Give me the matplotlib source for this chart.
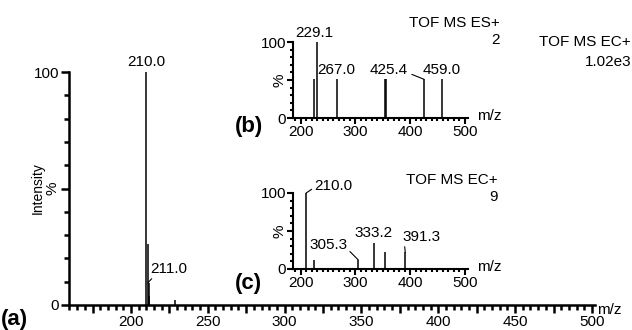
import matplotlib
matplotlib.use("Agg")
import matplotlib.pyplot as plt
from matplotlib.ticker import MultipleLocator, FuncFormatter

plt.rcParams['font.family'] = ['Liberation Sans', 'DejaVu Sans']

# (a) main spectrum, TOF MS EC+
a_mz = [210.0, 211.0, 211.6, 212.0, 229.0]
a_int = [100, 26, 9.5, 4, 2]

# (b) inset, TOF MS ES+
b_mz = [225.0, 229.1, 267.0, 355.0, 356.0, 425.4, 459.0]
b_int = [51, 100, 51, 51, 51, 51, 51]

# (c) inset, TOF MS EC+
c_mz = [210.0, 225.0, 305.3, 333.2, 355.0, 391.3]
c_int = [100, 12, 12, 34, 22, 22]

FS = 11

fig = plt.figure(figsize=(6.32, 3.30), dpi=100)


def style(ax, xlim, major, minor, lw, fs, ticklen):
    ax.set_xlim(*xlim)
    ax.set_ylim(0, 100)
    for s in ['top', 'right']:
        ax.spines[s].set_visible(False)
    for s in ['left', 'bottom']:
        ax.spines[s].set_linewidth(lw)
    ax.xaxis.set_major_locator(MultipleLocator(major))
    ax.xaxis.set_minor_locator(MultipleLocator(minor))
    ax.set_yticks([0, 50, 100])
    ax.set_yticklabels(['0', '%', '100'])
    ax.yaxis.set_minor_locator(MultipleLocator(10))
    ax.tick_params(axis='both', which='major', length=ticklen, width=lw,
                   labelsize=fs, pad=1)
    ax.tick_params(axis='both', which='minor', length=ticklen * 0.6, width=lw)
    ax.get_yticklabels()[1].set_rotation(90)
    ax.get_yticklabels()[1].set_va('center')


# main axes
ax = fig.add_axes([69 / 632, 1 - 305 / 330, 526 / 632, 233 / 330])
ax.vlines(a_mz, 0, a_int, color='black', lw=1.1)
style(ax, (159.7, 502), 25, 5, 1.8, FS, 6)
ax.xaxis.set_major_formatter(FuncFormatter(lambda v, p: '%d' % v if v % 50 == 0 else ''))
ax.text(-0.059, 0.5, 'Intensity', transform=ax.transAxes, rotation=90,
        ha='center', va='center', fontsize=10)
ax.text(1.004, -0.02, 'm/z', transform=ax.transAxes, fontsize=FS, va='center')
ax.annotate('210.0', xy=(a_mz[0], a_int[0]), xytext=(0, 2), textcoords='offset points',
            ha='center', va='bottom', fontsize=FS)
ax.annotate('211.0', xy=(a_mz[1], 9.5), xytext=(2, 5), textcoords='offset points',
            ha='left', va='bottom', fontsize=FS,
            arrowprops=dict(arrowstyle='-', lw=0.8, shrinkA=0, shrinkB=0, relpos=(0.1, 0)))
fig.text(1 / 632, 1 - 319 / 330, '(a)', fontsize=16, fontweight='bold', va='center')
fig.text(631 / 632, 1 - 42 / 330, 'TOF MS EC+', fontsize=FS, ha='right', va='center')
fig.text(631 / 632, 1 - 62 / 330, '1.02e3', fontsize=FS, ha='right', va='center')

# inset (b)
axb = fig.add_axes([293 / 632, 1 - 118 / 330, 175 / 632, 76 / 330])
axb.vlines(b_mz, 0, b_int, color='black', lw=1.1)
style(axb, (186, 506), 100, 10, 1.5, FS, 4)
axb.text(1.05, 0.02, 'm/z', transform=axb.transAxes, fontsize=FS, va='center')
axb.annotate('229.1', xy=(b_mz[1], 100), xytext=(224.5, 103), ha='center', va='bottom',
             fontsize=FS)
axb.annotate('267.0', xy=(b_mz[2], 51), xytext=(265, 54), ha='center', va='bottom',
             fontsize=FS)
axb.annotate('425.4', xy=(b_mz[5], 51), xytext=(361, 54), ha='center', va='bottom',
             fontsize=FS,
             arrowprops=dict(arrowstyle='-', lw=0.8, shrinkA=1, shrinkB=0,
                             relpos=(1.0, 0.3)))
axb.annotate('459.0', xy=(b_mz[6], 51), xytext=(457, 54), ha='center', va='bottom',
             fontsize=FS)
fig.text(235 / 632, 1 - 127 / 330, '(b)', fontsize=16, fontweight='bold', va='center')
fig.text(500 / 632, 1 - 23 / 330, 'TOF MS ES+', fontsize=FS, ha='right', va='center')
fig.text(500 / 632, 1 - 40 / 330, '2', fontsize=FS, ha='right', va='center')

# inset (c)
axc = fig.add_axes([293 / 632, 1 - 269 / 330, 175 / 632, 76 / 330])
axc.vlines(c_mz, 0, c_int, color='black', lw=1.1)
style(axc, (186, 506), 100, 10, 1.5, FS, 4)
axc.text(1.05, 0.02, 'm/z', transform=axc.transAxes, fontsize=FS, va='center')
axc.annotate('210.0', xy=(c_mz[0], 100), xytext=(6, 5), textcoords='offset points',
             ha='left', va='center', fontsize=FS,
             arrowprops=dict(arrowstyle='-', lw=0.8, shrinkA=0, shrinkB=0, relpos=(0, 0.4)))
axc.annotate('305.3', xy=(c_mz[2], 12), xytext=(-8, 6), textcoords='offset points',
             ha='right', va='bottom', fontsize=FS,
             arrowprops=dict(arrowstyle='-', lw=0.8, shrinkA=0, shrinkB=0, relpos=(1, 0.2)))
axc.annotate('333.2', xy=(c_mz[3], 34), xytext=(0, 2), textcoords='offset points',
             ha='center', va='bottom', fontsize=FS)
axc.annotate('391.3', xy=(c_mz[5], 22), xytext=(-2, 6), textcoords='offset points',
             ha='left', va='bottom', fontsize=FS,
             arrowprops=dict(arrowstyle='-', lw=0.8, shrinkA=0, shrinkB=0, relpos=(0.05, 0)))
fig.text(235 / 632, 1 - 283 / 330, '(c)', fontsize=16, fontweight='bold', va='center')
fig.text(498 / 632, 1 - 180 / 330, 'TOF MS EC+', fontsize=FS, ha='right', va='center')
fig.text(498 / 632, 1 - 197 / 330, '9', fontsize=FS, ha='right', va='center')

fig.savefig('out.png', dpi=100)
